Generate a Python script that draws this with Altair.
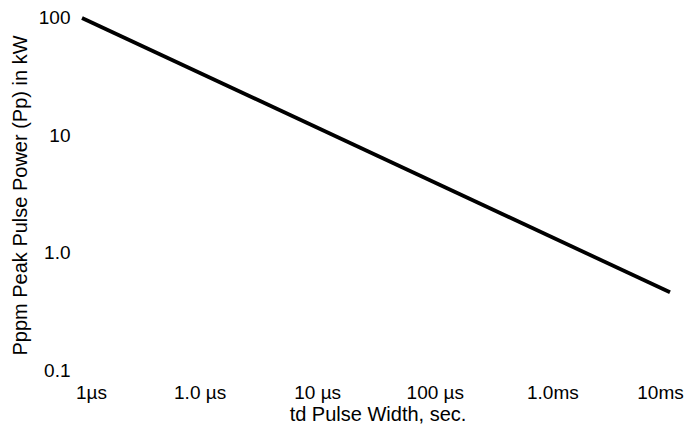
import altair as alt
import pandas as pd

# Data
pulse_width_s = [1e-7, 1e-2]
peak_power_kw = [100.0, 0.46]

x_ticks = [1e-7, 1e-6, 1e-5, 1e-4, 1e-3, 1e-2]
x_labels = ["1µs", "1.0 µs", "10 µs", "100 µs", "1.0ms", "10ms"]
y_ticks = [0.1, 1.0, 10.0, 100.0]
y_labels = ["0.1", "1.0", "10", "100"]

df = pd.DataFrame({"t": pulse_width_s, "p": peak_power_kw})

x_expr = "[" + ",".join("'%s'" % s for s in x_labels) + "][round(log(datum.value)/LN10)+7]"
y_expr = "[" + ",".join("'%s'" % s for s in y_labels) + "][round(log(datum.value)/LN10)+1]"

FONT = "Liberation Sans"

chart = alt.Chart(df).mark_line(color="black", strokeWidth=3.8).encode(
    x=alt.X("t:Q",
            scale=alt.Scale(type="log", domain=[10 ** -7.0595, 10 ** -1.915], nice=False),
            axis=alt.Axis(title="td Pulse Width, sec.", values=x_ticks, labelExpr=x_expr,
                          grid=False, domain=False, ticks=False, labelPadding=3,
                          titlePadding=2, labelFlush=False,
                          labelOffset={"condition": [
                              {"test": "datum.value < 5e-7", "value": 9},
                              {"test": "datum.value > 5e-3", "value": -10}],
                              "value": 0})),
    y=alt.Y("p:Q",
            scale=alt.Scale(type="log", domain=[10 ** -1.085, 10 ** 2.068], nice=False),
            axis=alt.Axis(title="Pppm Peak Pulse Power (Pp) in kW", values=y_ticks, labelExpr=y_expr,
                          grid=False, domain=False, ticks=False, labelPadding=5,
                          titlePadding=8, labelFlush=False)),
).properties(
    width=605, height=370,
    autosize=alt.AutoSizeParams(type="none"),
    padding={"left": 67, "top": 2, "right": 6, "bottom": 53},
).configure_view(stroke=None).configure_axis(
    labelFont=FONT, titleFont=FONT, labelFontSize=19, titleFontSize=20,
    labelColor="black", titleColor="black", titleFontWeight="normal",
)

chart.save("out.html", embed_options={"renderer": "svg", "actions": False})
